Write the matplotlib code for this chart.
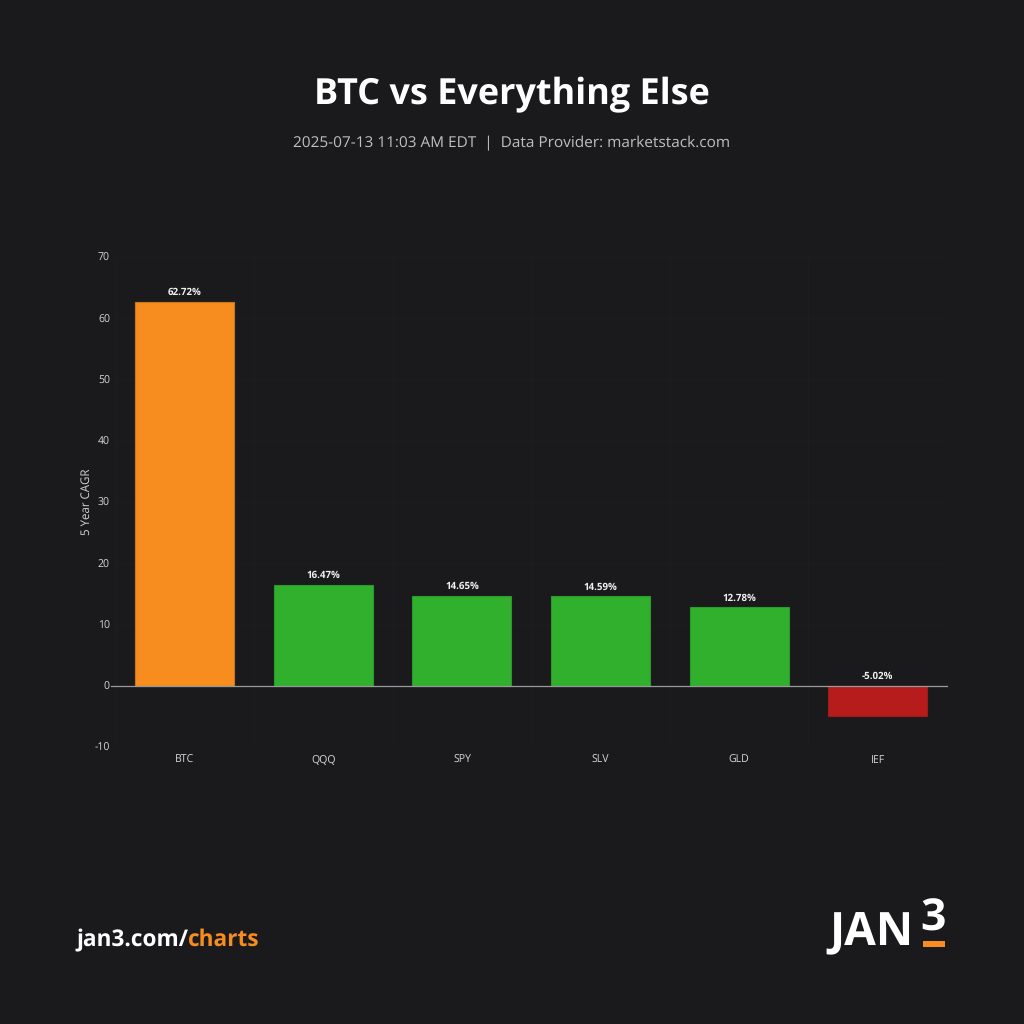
import matplotlib
matplotlib.use("Agg")
import matplotlib.pyplot as plt
from matplotlib.patches import Rectangle

tickers = ["BTC", "QQQ", "SPY", "SLV", "GLD", "IEF"]
cagr = [62.72, 16.47, 14.65, 14.59, 12.78, -5.02]
bar_colors = ["#f68d1e", "#31b02e", "#31b02e", "#31b02e", "#31b02e", "#b71c1c"]
edge_colors = ["#c9771a", "#2c9a2a", "#2c9a2a", "#2c9a2a", "#2c9a2a", "#9c1a1a"]
y_ticks = [-10, 0, 10, 20, 30, 40, 50, 60, 70]
x_minor = [-0.5, 0.5, 1.5, 2.5, 3.5, 4.5, 5.5]

BG = "#1a1a1c"
plt.rcParams["font.family"] = ["Open Sans", "DejaVu Sans"]
plt.rcParams["axes.unicode_minus"] = False
plt.rcParams["text.hinting"] = "no_hinting"

fig = plt.figure(figsize=(10.24, 10.24), dpi=100, facecolor=BG)

# axes box in pixels: x 115-947, y 257-747
ax = fig.add_axes([115.5 / 1024, 1 - 747 / 1024, 831.5 / 1024, 490 / 1024], facecolor=BG)
ax.bar(range(len(tickers)), cagr, width=0.714, color=bar_colors, edgecolor=edge_colors,
       linewidth=0.8, zorder=3)
ax.set_xlim(-0.5, 5.5)
ax.set_ylim(-10, 70)
ax.set_yticks(y_ticks)
ax.set_xticks(range(len(tickers)))
ax.set_xticklabels(tickers, va="baseline")
ax.set_xticks(x_minor, minor=True)
ax.tick_params(axis="both", which="both", length=0)
ax.tick_params(axis="both", labelsize=7.6, labelcolor="#d6d6d6")
ax.tick_params(axis="x", pad=11.5)
ax.tick_params(axis="y", pad=4)
for lab in ax.get_yticklabels():
    lab.set_verticalalignment("center_baseline")

# grid is barely visible on the reference, lines sit between the bars
ax.grid(True, axis="y", color="#1d1d1f", linewidth=0.8, zorder=0)
ax.grid(True, axis="x", which="minor", color="#1d1d1f", linewidth=0.8, zorder=0)
ax.axhline(0, xmin=-0.005, color="#9a9a9a", linewidth=0.9, zorder=4, clip_on=False)
for side in ax.spines:
    ax.spines[side].set_visible(False)
ax.set_ylabel("5 Year CAGR", fontsize=8.3, color="#d6d6d6")
ax.yaxis.set_label_coords(-22.5 / 831.5, 0.5)

# value labels above the bars
for i, v in enumerate(cagr):
    ax.annotate("%.2f%%" % v, (i, max(v, 0)), xytext=(0, 3.2), textcoords="offset points",
                ha="center", va="bottom", fontsize=7, fontweight="bold", color="#f0f0f0")

fig.text(0.5, 1 - 95 / 1024, "BTC vs Everything Else", ha="center", va="center",
         fontsize=25.9, fontweight="bold", color="white")
fig.text(0.5, 1 - 143 / 1024, "2025-07-13 11:03 AM EDT  |  Data Provider: marketstack.com",
         ha="center", va="center", fontsize=11.05, color="#c0c0c0")

# footer
t = fig.text(76 / 1024, 1 - 940 / 1024, "jan3.com/", ha="left", va="center",
             fontsize=16.3, fontweight="bold", color="white")
fig.canvas.draw()
box = t.get_window_extent()
fig.text(box.x1 / 1024, 1 - 940 / 1024, "charts", ha="left", va="center",
         fontsize=16.3, fontweight="bold", color="#f68d1e")

# logo
fig.text(829 / 1024, 1 - 933 / 1024, "JAN", ha="left", va="center",
         fontsize=33, fontweight="bold", color="white")
fig.text(933 / 1024, 1 - 919 / 1024, "3", ha="center", va="center",
         fontsize=32, fontweight="bold", color="white")
fig.add_artist(Rectangle((923 / 1024, 1 - 947 / 1024), 22 / 1024, 6 / 1024,
                         transform=fig.transFigure, color="#f68d1e", linewidth=0))

fig.savefig("out.png", dpi=100, facecolor=BG)
